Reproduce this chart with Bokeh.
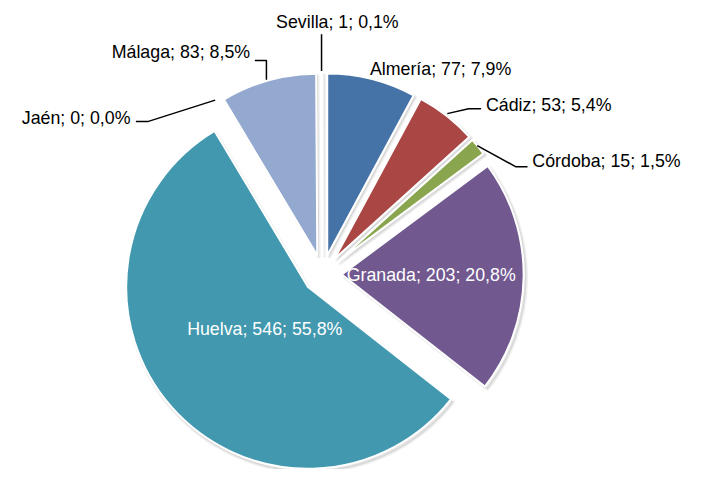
import math
from bokeh.plotting import figure
from bokeh.models import Range1d, ColumnDataSource
from bokeh.core.properties import value
from bokeh.embed import file_html
from bokeh.resources import INLINE

# ---- data ----
regions = ["Almería", "Cádiz", "Córdoba", "Granada", "Huelva", "Jaén", "Málaga", "Sevilla"]
counts = [77, 53, 15, 203, 546, 0, 83, 1]
colors = ["#4572A7", "#AA4643", "#89A54E", "#71588F", "#4198AF", "#DB843D", "#93A9CF", "#C4B4B4"]

# ---- layout (reference pixel coords of a 708x485 page) ----
W, H = 708, 485
FW, FH = 692, 469          # figure size that fits the window
S = FH / H                 # uniform scale so that the whole chart fits
CX, CY = 333, 283          # pie centre
R = 188                    # radius
EXPLODE = 20               # explosion distance
label_pos = {               # left x, middle y
    "Almería": (382, 71), "Cádiz": (502, 108), "Córdoba": (550, 166),
    "Granada": (358, 284), "Huelva": (193, 340), "Jaén": (22, 121),
    "Málaga": (115, 53), "Sevilla": (285, 22),
}
inside = {"Granada", "Huelva"}
leaders = {
    "Sevilla": [(332, 73), (332, 35)],
    "Cádiz": [(462, 117), (484, 112), (497, 112)],
    "Córdoba": [(493, 150), (533, 172), (545, 172)],
    "Jaén": [(222, 103), (153, 125), (140, 125)],
    "Málaga": [(275, 82), (275, 62), (263, 62)],
}

def sy(y):
    return H - y

total = sum(counts)
xs, ys, starts, ends, cols = [], [], [], [], []
cum = 0.0
for reg, c, col in zip(regions, counts, colors):
    t1 = cum / total * 2 * math.pi
    cum += c
    t2 = cum / total * 2 * math.pi
    if c == 0:
        continue
    tm = (t1 + t2) / 2
    xs.append(CX + EXPLODE * math.sin(tm))
    ys.append(sy(CY) + EXPLODE * math.cos(tm))
    starts.append(math.pi / 2 - t2)
    ends.append(math.pi / 2 - t1)
    cols.append(col)

src = ColumnDataSource(dict(x=xs, y=ys, s=starts, e=ends, c=cols))
shadow = ColumnDataSource(dict(x=[v + 2 for v in xs], y=[v - 2.5 for v in ys], s=starts, e=ends))

p = figure(width=FW, height=FH, output_backend="svg", toolbar_location=None,
           x_range=Range1d(0, FW / S), y_range=Range1d(0, H), min_border=0)
p.axis.visible = False
p.grid.visible = False
p.outline_line_color = None
p.background_fill_color = "white"

p.wedge(x="x", y="y", radius=R + 1, start_angle="s", end_angle="e", source=shadow,
        fill_color="#000000", fill_alpha=0.10, line_color="#000000", line_alpha=0.06, line_width=3)
p.wedge(x="x", y="y", radius=R, start_angle="s", end_angle="e", source=src,
        fill_color="c", line_color="white", line_width=2)

for reg, pts in leaders.items():
    p.line([q[0] for q in pts], [sy(q[1]) for q in pts], line_color="black", line_width=1.5)

pcts = [f"{c / total * 100:.1f}".replace(".", ",") for c in counts]
lab = ColumnDataSource(dict(
    x=[label_pos[r][0] for r in regions],
    y=[sy(label_pos[r][1]) for r in regions],
    t=[f"{r}; {c}; {pc}%" for r, c, pc in zip(regions, counts, pcts)],
    c=["white" if r in inside else "black" for r in regions],
))
p.text(x="x", y="y", text="t", source=lab, text_color="c", text_align="left",
       text_baseline="middle", text_font=value("Liberation Sans"),
       text_font_size=f"{18.4 * S:.1f}px")

open("out.html", "w").write(file_html(p, INLINE))
